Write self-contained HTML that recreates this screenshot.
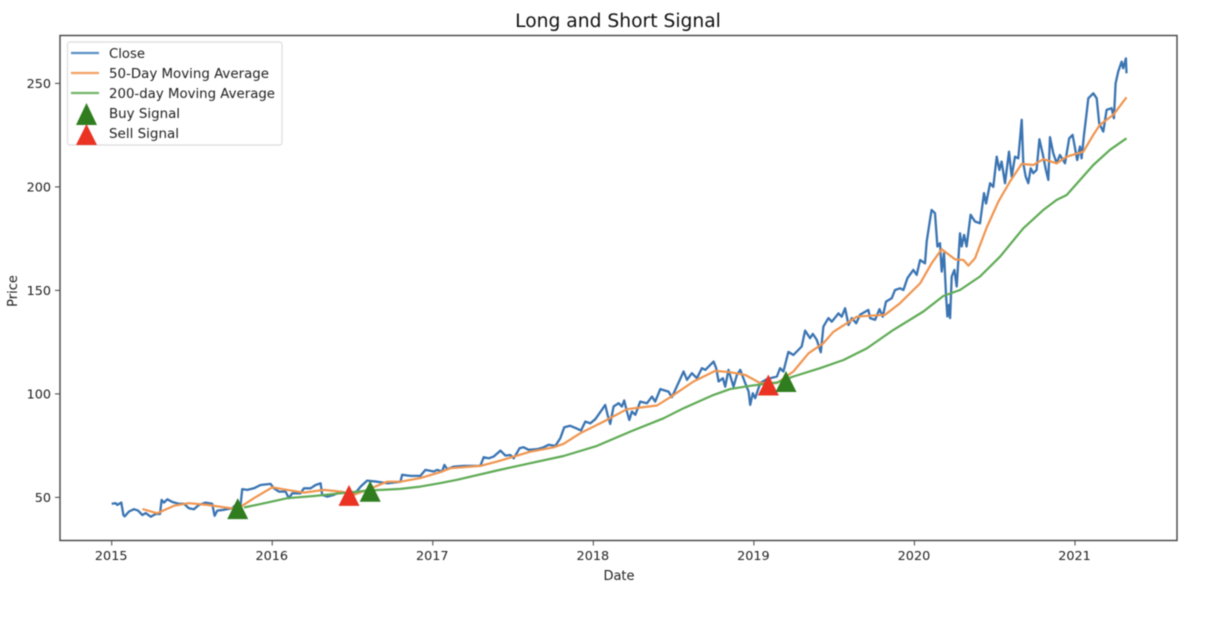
<!DOCTYPE html>
<html>
<head>
<meta charset="utf-8">
<style>
html,body{margin:0;padding:0;background:#fff;width:1216px;height:626px;overflow:hidden}
svg{display:block;filter:blur(0.5px)}
text{font-family:"DejaVu Sans","Liberation Sans",sans-serif;fill:#1f1f1f}
</style>
</head>
<body>
<svg id="chart" width="1216" height="626" viewBox="0 0 1216 626" xmlns="http://www.w3.org/2000/svg">
  <rect x="0" y="0" width="1216" height="626" fill="#fff"/>
  <text x="618" y="27" text-anchor="middle" font-size="18.7" style="fill:#111">Long and Short Signal</text>
  <text x="619" y="580" text-anchor="middle" font-size="13">Date</text>
  <text x="17" y="291" text-anchor="middle" font-size="13" transform="rotate(-90 17 291)">Price</text>
  <g id="grid-ticks"></g>
  <g id="series"></g>
  <rect x="60" y="35.5" width="1117" height="505" fill="none" stroke="#444" stroke-width="1.4"/>
  <g>
    <rect x="67.5" y="42" width="214.5" height="103" rx="2.5" fill="#fff" fill-opacity="0.9" stroke="#ddd" stroke-width="1.2"/>
    <line x1="71" y1="53" x2="99" y2="53" stroke="#5b8fc4" stroke-width="2.2"/>
    <line x1="71" y1="73" x2="99" y2="73" stroke="#f2a063" stroke-width="2.2"/>
    <line x1="71" y1="93" x2="99" y2="93" stroke="#72b368" stroke-width="2.2"/>
    <polygon points="86.5,103 76,125 97,125" fill="#2f7d1f"/>
    <polygon points="86.5,124 76,145 97,145" fill="#ea3323"/>
    <text x="109" y="58" font-size="13" textLength="36" lengthAdjust="spacingAndGlyphs">Close</text>
    <text x="109" y="78" font-size="13" textLength="160" lengthAdjust="spacingAndGlyphs">50-Day Moving Average</text>
    <text x="109" y="98" font-size="13" textLength="166" lengthAdjust="spacingAndGlyphs">200-day Moving Average</text>
    <text x="109" y="118" font-size="13" textLength="71" lengthAdjust="spacingAndGlyphs">Buy Signal</text>
    <text x="109" y="138" font-size="13" textLength="70" lengthAdjust="spacingAndGlyphs">Sell Signal</text>
  </g>
</svg>
<script>
const xTickLabels = [2015, 2016, 2017, 2018, 2019, 2020, 2021];
const yTickLabels = [50, 100, 150, 200, 250];

const closeDates = [2015.00,2015.025,2015.035,2015.06,2015.073,2015.081,2015.108,2015.139,2015.164,2015.191,2015.212,2015.243,2015.274,2015.301,2015.311,2015.326,2015.346,2015.378,2015.419,2015.45,2015.481,2015.512,2015.544,2015.585,2015.626,2015.641,2015.658,2015.699,2015.751,2015.782,2015.803,2015.813,2015.844,2015.886,2015.927,2015.99,2016.01,2016.041,2016.083,2016.104,2016.124,2016.176,2016.197,2016.238,2016.27,2016.301,2016.311,2016.342,2016.384,2016.425,2016.508,2016.55,2016.591,2016.654,2016.716,2016.799,2016.809,2016.861,2016.923,2016.954,2017.006,2017.026,2017.058,2017.072,2017.089,2017.13,2017.192,2017.296,2017.317,2017.348,2017.379,2017.421,2017.452,2017.483,2017.504,2017.541,2017.566,2017.597,2017.649,2017.69,2017.721,2017.763,2017.794,2017.819,2017.856,2017.894,2017.923,2017.95,2017.981,2018.012,2018.053,2018.074,2018.089,2018.105,2018.126,2018.157,2018.178,2018.192,2018.209,2018.224,2018.24,2018.261,2018.292,2018.334,2018.365,2018.385,2018.417,2018.468,2018.489,2018.531,2018.562,2018.583,2018.614,2018.645,2018.676,2018.697,2018.749,2018.765,2018.78,2018.807,2018.821,2018.842,2018.873,2018.894,2018.915,2018.946,2018.967,2018.977,2018.993,2019.008,2019.039,2019.08,2019.143,2019.163,2019.184,2019.215,2019.246,2019.298,2019.319,2019.35,2019.367,2019.392,2019.417,2019.433,2019.464,2019.485,2019.527,2019.547,2019.568,2019.589,2019.61,2019.637,2019.661,2019.713,2019.724,2019.755,2019.782,2019.802,2019.823,2019.858,2019.879,2019.91,2019.931,2019.956,2019.993,2020.014,2020.035,2020.066,2020.076,2020.097,2020.107,2020.128,2020.143,2020.159,2020.17,2020.184,2020.197,2020.205,2020.215,2020.222,2020.232,2020.249,2020.263,2020.284,2020.294,2020.309,2020.325,2020.35,2020.377,2020.408,2020.433,2020.446,2020.471,2020.491,2020.512,2020.529,2020.543,2020.564,2020.589,2020.606,2020.626,2020.647,2020.668,2020.678,2020.693,2020.709,2020.724,2020.74,2020.761,2020.778,2020.798,2020.819,2020.834,2020.844,2020.865,2020.886,2020.906,2020.938,2020.964,2020.985,2021.014,2021.031,2021.041,2021.056,2021.072,2021.083,2021.114,2021.135,2021.151,2021.176,2021.197,2021.228,2021.242,2021.253,2021.269,2021.29,2021.30,2021.317,2021.321];
const closeValues = [46.9,47.2,46.4,47.5,41.5,40.8,43.2,44.3,43.6,41.5,42.4,40.7,42,42,48.8,47.5,49.1,47.8,46.9,46.9,44.8,44.3,46.4,47.5,46.9,41.1,43.6,44,44.8,47.2,46.4,54,53.6,54.4,56,56.5,54.4,52.8,52.8,49.6,52,52,54.4,54.4,56,56.8,51.2,50.4,51.2,52.8,51.2,55.2,58.1,57.6,56.8,57.6,60.9,60.4,60.4,63.3,62.5,63.3,62.5,65.7,63.6,64.9,65.2,65.2,69.4,68.9,69.7,72.6,70.2,70.5,68.9,73.8,74.2,73,73.3,74.2,75.4,74.9,78.6,83.9,84.6,83.4,82.3,86.6,85.8,87.8,92.3,94.7,89.9,85.5,93.9,95.5,93.9,96.8,91.5,87.4,91.5,89.9,96.3,95.5,98.7,96.3,102.3,101.1,98.4,105.5,110.8,106.8,110,107.6,112.4,111.6,115.6,112.4,106,107.6,103.5,111.6,103.5,109.2,111.6,105.2,101.1,94.7,100.3,97.9,105.2,107.1,108.4,112.4,110.8,120.3,118.8,122.9,130.6,126.9,129,126.1,120.1,132.5,136.6,134.9,138.9,137.3,141.4,133.3,136.6,134.1,138.2,140.6,136.6,135.8,140.9,137.3,144.6,146.2,150.2,151,150.2,155.9,159.9,157.5,164.7,163.1,173.6,184.1,188.9,187.3,171.2,172.8,159.1,168,147,137.4,143,136.6,156.7,159.9,151.9,177.6,171.2,176.8,171.2,186.5,183.3,182.4,197,192,201.8,200,214.6,208.2,212.2,201.8,217,205,214.6,213.8,232.4,211.4,205,201.8,209,206.6,208.2,223,216.2,208.2,203.4,224,216.2,211.4,215.4,211.4,223.5,225.1,213,219.5,213.8,225.1,235.6,242.8,245.2,242.8,230.7,226.7,237.2,238,233.2,250,255.7,260.5,257.3,262.1,254.9];

const ma50Dates = [2015.191,2015.284,2015.388,2015.481,2015.595,2015.74,2015.79,2015.886,2016.0,2016.093,2016.197,2016.322,2016.425,2016.508,2016.591,2016.716,2016.799,2016.923,2017.048,2017.11,2017.296,2017.4,2017.607,2017.753,2017.815,2017.919,2018.064,2018.209,2018.396,2018.479,2018.624,2018.759,2018.852,2018.946,2019.039,2019.143,2019.246,2019.34,2019.433,2019.495,2019.578,2019.641,2019.724,2019.817,2019.91,2020.035,2020.107,2020.17,2020.253,2020.305,2020.336,2020.377,2020.45,2020.523,2020.595,2020.668,2020.74,2020.803,2020.886,2020.948,2021.052,2021.114,2021.155,2021.238,2021.321];
const ma50Values = [44.4,42.3,46,47.2,46.4,44.8,44.8,49.6,54.9,53.6,52.3,53.6,52.8,51.2,53.6,57.6,57.6,59.3,62.2,64.1,65.2,67.3,72.1,74.2,75.9,81,86.6,92.6,94.4,98.4,106,111.1,110.5,109.2,105.2,105.2,110.8,119.6,124.5,130,134.1,137.3,137.8,138.2,143.8,153.4,163.1,169.9,165,164.7,162,165.5,180.4,192.9,202.6,211.1,210.6,213.4,211.4,214.6,217,225.1,230,234.8,243.3];

const ma200Dates = [2015.824,2015.969,2016.093,2016.26,2016.425,2016.591,2016.799,2016.923,2017.048,2017.151,2017.4,2017.607,2017.815,2018.022,2018.23,2018.437,2018.562,2018.749,2018.852,2018.977,2019.143,2019.246,2019.412,2019.558,2019.703,2019.869,2020.056,2020.18,2020.284,2020.408,2020.533,2020.678,2020.803,2020.886,2020.948,2021.114,2021.218,2021.321];
const ma200Values = [45.1,47.5,49.6,50.7,52,53.3,54.1,55.2,56.9,58.5,63,66.5,70,74.9,81.8,88.2,93.1,99.5,102.3,103.9,105.5,108.4,112.4,116.4,122,130.9,139.8,147.3,150.2,156.7,166.3,180,188.9,193.7,196.1,210.6,217.9,223.5];

const buyDates = [2015.785, 2016.61, 2019.2];
const buyValues = [44.6, 53, 106];
const sellDates = [2016.478, 2019.09];
const sellValues = [51, 104.3];

const SVGNS = 'http://www.w3.org/2000/svg';
function xScale(year){ return 111.7 + (year - 2015) * 160.55; }
function yScale(price){ return 497.4 - (price - 50) * 2.07; }
function make(tag, attrs, parent){
  const el = document.createElementNS(SVGNS, tag);
  for (const k in attrs) el.setAttribute(k, attrs[k]);
  parent.appendChild(el);
  return el;
}
const tickGroup = document.getElementById('grid-ticks');
const seriesGroup = document.getElementById('series');

xTickLabels.forEach(function(label){
  const x = xScale(label);
  const tick = make('line', {x1:x, x2:x, y1:540.5, y2:545.5, stroke:'#444', 'stroke-width':1}, tickGroup);
  
  
  const text = make('text', {x:x - 0.5, y:560, 'text-anchor':'middle', 'font-size':12.8}, tickGroup);
  text.textContent = label;
  
  
});
yTickLabels.forEach(function(label){
  const y = yScale(label);
  const tick = make('line', {x1:55, x2:60, y1:y, y2:y, stroke:'#444', 'stroke-width':1}, tickGroup);
  
  
  const text = make('text', {x:51, y:y + 4.5, 'text-anchor':'end', 'font-size':12.8}, tickGroup);
  text.textContent = label;
  
  
});

function linePoints(dates, values){
  return dates.map(function(d, i){ return xScale(d).toFixed(1) + ',' + yScale(values[i]).toFixed(1); }).join(' ');
}
const closeLine = make('polyline', {points:linePoints(closeDates, closeValues), fill:'none', stroke:'#3a74b2', 'stroke-width':2.3, 'stroke-linejoin':'round'}, seriesGroup);


const ma50Line = make('polyline', {points:linePoints(ma50Dates, ma50Values), fill:'none', stroke:'#f0954f', 'stroke-width':2.2, 'stroke-linejoin':'round'}, seriesGroup);


const ma200Line = make('polyline', {points:linePoints(ma200Dates, ma200Values), fill:'none', stroke:'#5fab55', 'stroke-width':2.2, 'stroke-linejoin':'round'}, seriesGroup);



function trianglePoints(date, value){
  const cx = xScale(date), cy = yScale(value);
  return cx + ',' + (cy - 10.5) + ' ' + (cx - 10.5) + ',' + (cy + 10.5) + ' ' + (cx + 10.5) + ',' + (cy + 10.5);
}
sellDates.forEach(function(d, i){
  const m = make('polygon', {points:trianglePoints(d, sellValues[i]), fill:'#ea3323'}, seriesGroup);
  
  
});
buyDates.forEach(function(d, i){
  const m = make('polygon', {points:trianglePoints(d, buyValues[i]), fill:'#2f7d1f'}, seriesGroup);
  
  
});
</script>
</body>
</html>
